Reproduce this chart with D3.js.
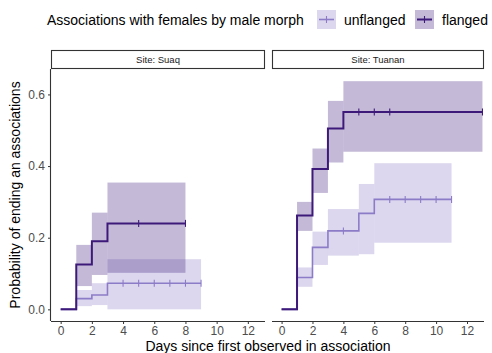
<!DOCTYPE html>
<html><head><meta charset="utf-8">
<script src="https://cdn.jsdelivr.net/npm/d3@7"></script>
<style>body{margin:0;background:#fff}svg{display:block;font-family:"Liberation Sans",Arial,sans-serif}</style>
</head><body><svg id="c" width="492" height="353"></svg>
<script>
// ---- data ----
const sites = ["Suaq", "Tuanan"];
const morphs = ["unflanged", "flanged"];
const xTicks = [0, 2, 4, 6, 8, 10, 12];
const yTicks = [0, 0.2, 0.4, 0.6];

const suaqUnflTime  = [0, 1, 2, 3, 9];
const suaqUnflEst   = [0, 0.03, 0.04, 0.073, 0.073];
const suaqUnflLow   = [0, 0.009, 0.012, 0];
const suaqUnflHigh  = [0, 0.054, 0.073, 0.14];
const suaqUnflCens  = [4, 5, 6, 7, 8, 9];

const suaqFlTime    = [0, 1, 2, 3, 8];
const suaqFlEst     = [0, 0.125, 0.19, 0.24, 0.24];
const suaqFlLow     = [0, 0.065, 0.096, 0.102];
const suaqFlHigh    = [0, 0.18, 0.27, 0.354];
const suaqFlCens    = [5, 8];

const tuaUnflTime   = [0, 1, 2, 3, 5, 6, 11];
const tuaUnflEst    = [0, 0.089, 0.173, 0.219, 0.268, 0.307, 0.307];
const tuaUnflLow    = [0, 0.063, 0.124, 0.15, 0.154, 0.186];
const tuaUnflHigh   = [0, 0.117, 0.217, 0.28, 0.35, 0.408];
const tuaUnflCens   = [4, 7, 8, 9, 10, 11];

const tuaFlTime     = [0, 1, 2, 3, 4, 13];
const tuaFlEst      = [0, 0.262, 0.392, 0.505, 0.551, 0.551];
const tuaFlLow      = [0, 0.219, 0.325, 0.41, 0.44];
const tuaFlHigh     = [0, 0.30, 0.449, 0.582, 0.637];
const tuaFlCens     = [5, 6, 7, 13];

const series = {
  Suaq: {
    unflanged: {time: suaqUnflTime, est: suaqUnflEst, low: suaqUnflLow, high: suaqUnflHigh, cens: suaqUnflCens},
    flanged:   {time: suaqFlTime, est: suaqFlEst, low: suaqFlLow, high: suaqFlHigh, cens: suaqFlCens}
  },
  Tuanan: {
    unflanged: {time: tuaUnflTime, est: tuaUnflEst, low: tuaUnflLow, high: tuaUnflHigh, cens: tuaUnflCens},
    flanged:   {time: tuaFlTime, est: tuaFlEst, low: tuaFlLow, high: tuaFlHigh, cens: tuaFlCens}
  }
};

const lineColor = {unflanged: "#8c7cc8", flanged: "#3d1a7a"};
const fillColor = {unflanged: "#8c7cc8", flanged: "#3d1a7a"};
const fillOpacity = {unflanged: 0.3, flanged: 0.3};
const lineWidth = {unflanged: 1.6, flanged: 2};

// ---- layout ----
const svg = d3.select("#c");
const panels = [
  {site: "Suaq",   x0: 51,  x1: 265},
  {site: "Tuanan", x0: 272, x1: 484}
];
const yTop = 69, yBot = 321;
const y = d3.scaleLinear().domain([-0.0325, 0.671]).range([yBot, yTop]);

panels.forEach((p, pi) => {
  const x = d3.scaleLinear().domain([-0.62, 13.1]).range([p.x0, p.x1]);
  const g = svg.append("g");

  // strip
  g.append("rect").attr("x", p.x0 + 0.5).attr("y", 50.5).attr("width", p.x1 - p.x0 - 1).attr("height", 18)
    .attr("fill", "#fff").attr("stroke", "#333").attr("stroke-width", 1.1);
  g.append("text").attr("x", (p.x0 + p.x1) / 2).attr("y", 63).attr("text-anchor", "middle")
    .attr("font-size", 9.5).attr("fill", "#1a1a1a").text("Site: " + p.site);

  // ribbons
  morphs.forEach(m => {
    const s = series[p.site][m];
    const rects = s.low.map((lo, i) => ({t0: s.time[i], t1: s.time[i + 1], lo: lo, hi: s.high[i]}));
    g.append("g").selectAll("rect").data(rects).join("rect")
      .attr("x", d => x(d.t0)).attr("width", d => x(d.t1) - x(d.t0))
      .attr("y", d => y(d.hi)).attr("height", d => Math.max(0, y(d.lo) - y(d.hi)))
      .attr("fill", fillColor[m]).attr("fill-opacity", fillOpacity[m]);
  });
  // lines
  morphs.forEach(m => {
    const s = series[p.site][m];
    const pts = s.time.map((t, i) => [t, s.est[i]]);
    const line = d3.line().x(d => x(d[0])).y(d => y(d[1])).curve(d3.curveStepAfter);
    g.append("path").attr("d", line(pts)).attr("fill", "none")
      .attr("stroke", lineColor[m]).attr("stroke-width", lineWidth[m]);
    // censor marks
    const estAt = t => { let v = 0; s.time.forEach((tt, i) => { if (tt <= t) v = s.est[i]; }); return v; };
    g.append("g").selectAll("line").data(s.cens).join("line")
      .attr("x1", d => x(d)).attr("x2", d => x(d))
      .attr("y1", d => y(estAt(d)) - 3.5).attr("y2", d => y(estAt(d)) + 3.5)
      .attr("stroke", lineColor[m]).attr("stroke-width", 1.1);
  });

  // x axis
  const xa = g.append("g").attr("transform", `translate(0,${yBot})`)
    .call(d3.axisBottom(x).tickValues(xTicks).tickSize(3).tickPadding(2).tickSizeOuter(0));
  xa.select(".domain").attr("stroke", "#333").attr("stroke-width", 1.1).attr("d", `M${p.x0},0.5H${p.x1}`);
  xa.selectAll(".tick line").attr("stroke", "#333");
  xa.selectAll("text").attr("font-size", 12).attr("fill", "#4d4d4d").attr("font-family", "Liberation Sans, Arial, sans-serif");

  if (pi === 0) {
    const ya = g.append("g").attr("transform", `translate(${p.x0},0)`)
      .call(d3.axisLeft(y).tickValues(yTicks).tickFormat(d3.format(".1f")).tickSize(3).tickPadding(3).tickSizeOuter(0));
    ya.select(".domain").attr("stroke", "#333").attr("stroke-width", 1.1).attr("d", `M-0.5,${yTop}V${yBot}`);
    ya.selectAll(".tick line").attr("stroke", "#333");
    ya.selectAll("text").attr("font-size", 12).attr("fill", "#4d4d4d").attr("font-family", "Liberation Sans, Arial, sans-serif");
  }
});

// axis titles
svg.append("text").attr("x", 268).attr("y", 351).attr("text-anchor", "middle").attr("font-size", 14)
  .attr("fill", "#000").text("Days since first observed in association");
svg.append("text").attr("transform", "translate(20,195) rotate(-90)").attr("text-anchor", "middle")
  .attr("font-size", 14).attr("fill", "#000").text("Probability of ending an associations");

// legend
const lg = svg.append("g");
lg.append("text").attr("x", 47).attr("y", 25).attr("font-size", 14).attr("fill", "#000")
  .text("Associations with females by male morph");
const keyX = {unflanged: 317, flanged: 415};
const labX = {unflanged: 344, flanged: 442};
morphs.forEach(m => {
  lg.append("rect").attr("x", keyX[m]).attr("y", 10).attr("width", 19).attr("height", 19)
    .attr("fill", fillColor[m]).attr("fill-opacity", fillOpacity[m]);
  lg.append("line").attr("x1", keyX[m] + 2).attr("x2", keyX[m] + 17).attr("y1", 19.5).attr("y2", 19.5)
    .attr("stroke", lineColor[m]).attr("stroke-width", lineWidth[m]);
  lg.append("line").attr("x1", keyX[m] + 9.5).attr("x2", keyX[m] + 9.5).attr("y1", 16).attr("y2", 23)
    .attr("stroke", lineColor[m]).attr("stroke-width", 1.1);
  lg.append("text").attr("x", labX[m]).attr("y", 25).attr("font-size", 14).attr("fill", "#000").text(m);
});
</script></body></html>
